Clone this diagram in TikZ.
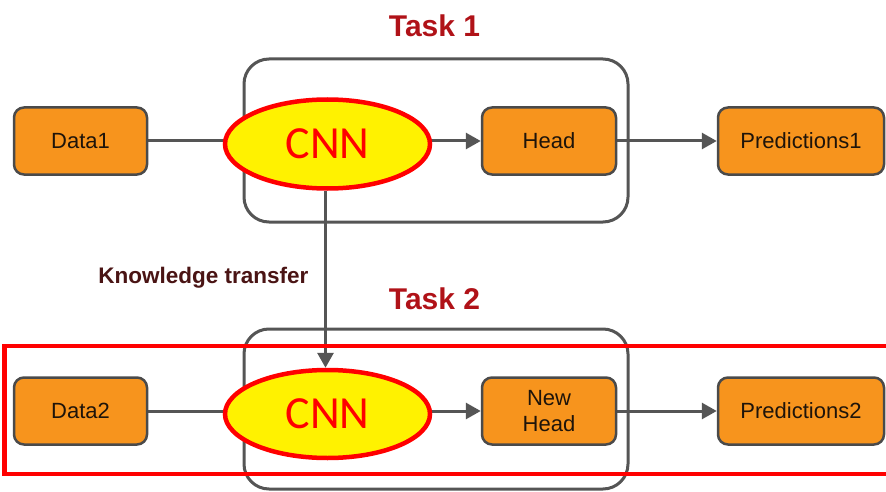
\documentclass[tikz,border=0pt]{standalone}
\usepackage{fontspec}
\setmainfont{Liberation Sans}
\newfontfamily\cnnfont{Carlito}
\usetikzlibrary{arrows.meta,shapes.geometric,backgrounds}
\definecolor{boxorange}{HTML}{F7941D}
\definecolor{boxedge}{HTML}{4A4A4A}
\definecolor{wire}{HTML}{555555}
\definecolor{tasktitle}{HTML}{B01218}
\definecolor{transfertext}{HTML}{4A1414}
\definecolor{boxtext}{HTML}{1E140A}
\tikzset{
  blockbox/.style={draw=boxedge, line width=2.5pt, fill=boxorange, rounded corners=10pt,
    minimum height=67pt, inner sep=0pt, text=boxtext, align=center,
    font=\fontsize{22}{26}\selectfont},
  cnnnode/.style={ellipse, draw=red, line width=4.5pt, fill=yellow, inner sep=0pt,
    minimum width=205pt, text=red, font=\cnnfont\fontsize{46}{50}\selectfont},
  taskframe/.style={draw=wire, line width=3pt, rounded corners=25pt},
  tasklabel/.style={text=tasktitle, inner sep=0pt, font=\bfseries\fontsize{30}{34}\selectfont},
  wireline/.style={draw=wire, line width=3pt},
  wirearrow/.style={wireline, -{Triangle[length=15pt, width=16pt]}},
  focusframe/.style={draw=red, line width=4.5pt}
}
\begin{document}
\begin{tikzpicture}[x=1pt, y=-1pt]
  \clip (0,0) rectangle (886,492);

  % task titles
  \node[tasklabel] (t1) at (434.5,26) {Task 1};
  \node[tasklabel] (t2) at (434.5,299) {Task 2};

  % first row
  \node[blockbox, minimum width=133pt] (d1) at (80.5,141) {Data1};
  \node[blockbox, minimum width=134pt] (h1) at (549,141) {Head};
  \node[blockbox, minimum width=166pt] (p1) at (801,141) {Predictions1};
  \node[cnnnode, minimum height=89pt] (c1) at (327.5,144) {CNN};

  % second row
  \node[blockbox, minimum width=133pt] (d2) at (80.5,411) {Data2};
  \node[blockbox, minimum width=134pt] (h2) at (549,411) {New\\Head};
  \node[blockbox, minimum width=166pt] (p2) at (801,411) {Predictions2};
  \node[cnnnode, minimum height=88pt] (c2) at (327.5,414) {CNN};

  \node[text=transfertext, inner sep=0pt, font=\bfseries\fontsize{22.5}{26}\selectfont]
    (kt) at (203.5,278) {Knowledge transfer};

  % frames and connectors sit behind the blocks
  \begin{pgfonlayer}{background}
    \fill[white] (0,0) rectangle (886,492);
    \draw[taskframe] (244,59) rectangle (628,222);
    \draw[taskframe] (244,329) rectangle (628,489);
    \draw[wireline] (d1.east) -- (d1.east -| c1.center);
    \draw[wirearrow] (d1.east -| c1.center) -- (h1.west);
    \draw[wirearrow] (h1.east) -- (p1.west);
    \draw[wireline] (d2.east) -- (d2.east -| c2.center);
    \draw[wirearrow] (d2.east -| c2.center) -- (h2.west);
    \draw[wirearrow] (h2.east) -- (p2.west);
    \draw[wirearrow] ([xshift=-2pt]c1.south) -- ([xshift=-2pt]c2.north);
  \end{pgfonlayer}

  % highlight around the second row
  \draw[focusframe] (4.5,346) rectangle (892,474);
\end{tikzpicture}
\end{document}
